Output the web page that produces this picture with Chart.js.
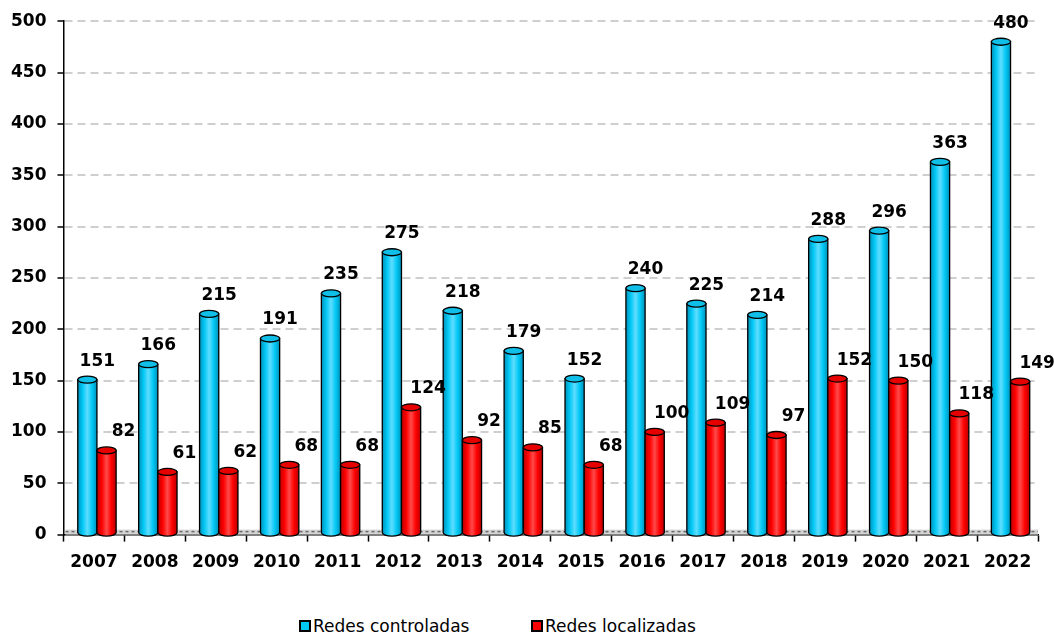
<!DOCTYPE html>
<html>
<head>
<meta charset="utf-8">
<script src="https://cdn.jsdelivr.net/npm/chart.js@4.4.1/dist/chart.umd.min.js"></script>
<style>
  html, body { margin: 0; padding: 0; background: #fff; }
  #wrap { position: relative; width: 1054px; height: 639px; }
  #box { position: absolute; left: 0; top: 0; width: 1054px; height: 600px; }
  .leg { position: absolute; top: 616px; font: 17px "DejaVu Sans", Arial, sans-serif; color: #000; white-space: nowrap; }
  .leg i { display: inline-block; width: 8px; height: 8px; border: 2px solid #000; margin-right: 2px; vertical-align: 0px; }
</style>
</head>
<body>
<div id="wrap">
  <div id="box"><canvas id="chart_redes"></canvas></div>
  <div class="leg" style="left:299px"><i style="background:#00C8F5"></i>Redes controladas</div>
  <div class="leg" style="left:531px"><i style="background:#FF0000"></i>Redes localizadas</div>
</div>
<script>
var years = ['2007', '2008', '2009', '2010', '2011', '2012', '2013', '2014', '2015', '2016', '2017', '2018', '2019', '2020', '2021', '2022'];
var controladas = [151, 166, 215, 191, 235, 275, 218, 179, 152, 240, 225, 214, 288, 296, 363, 480];
var localizadas = [82, 61, 62, 68, 68, 124, 92, 85, 68, 100, 109, 97, 152, 150, 118, 149];
var seriesNames = ['Redes controladas', 'Redes localizadas'];

var colors = [
  { base: '#00C8F5', dark: '#0090B8', light: '#5EDDFF', top: '#10BFE8' },
  { base: '#FF0000', dark: '#B80000', light: '#FF4A4A', top: '#E60000' }
];
var labelShift = [10, 17];
var depth = 3; // small 3d offset of the bars, like the original
var fontFamily = '"DejaVu Sans", Arial, sans-serif';
var boldFont = 'bold 17px ' + fontFamily;

// flat bars are invisible, this draws them as cylinders
var cylinders = {
  id: 'cylinders',
  beforeDatasetsDraw: function(chart) {
    var ctx = chart.ctx, a = chart.chartArea;
    var y0 = chart.scales.y.getPixelForValue(0);
    ctx.save();
    ctx.fillStyle = '#d4d4d4';
    ctx.fillRect(a.left + 2, y0 - 5, a.right - a.left - 2, 5);
    ctx.strokeStyle = '#6a6a6a';
    ctx.lineWidth = 1.5;
    ctx.setLineDash([3, 3]);
    ctx.beginPath();
    ctx.moveTo(a.left + 2, y0 - 3);
    ctx.lineTo(a.right, y0 - 3);
    ctx.stroke();
    ctx.restore();
  },
  afterDatasetsDraw: function(chart) {
    var ctx = chart.ctx;
    chart.data.datasets.forEach(function(ds, di) {
      var c = colors[di];
      chart.getDatasetMeta(di).data.forEach(function(bar) {
        var cx = bar.x + depth;
        var w = bar.width, x0 = cx - w / 2, x1 = cx + w / 2;
        var top = bar.y, base = bar.base - 1, ry = 3.5;
        ctx.save();
        var g = ctx.createLinearGradient(x0, 0, x1, 0);
        g.addColorStop(0, c.dark);
        g.addColorStop(0.25, c.base);
        g.addColorStop(0.5, c.light);
        g.addColorStop(0.75, c.base);
        g.addColorStop(1, c.dark);
        ctx.fillStyle = g;
        ctx.beginPath();
        ctx.moveTo(x0, top);
        ctx.lineTo(x0, base);
        ctx.ellipse(cx, base, w / 2, ry, 0, Math.PI, 0, true);
        ctx.lineTo(x1, top);
        ctx.closePath();
        ctx.fill();
        ctx.strokeStyle = '#000';
        ctx.lineWidth = 1.3;
        ctx.stroke();
        ctx.beginPath();
        ctx.ellipse(cx, top, w / 2, ry, 0, 0, Math.PI * 2);
        ctx.fillStyle = c.top;
        ctx.fill();
        ctx.stroke();
        ctx.restore();
      });
    });
  },
  afterDraw: function(chart) {
    var ctx = chart.ctx;
    ctx.save();
    ctx.font = boldFont;
    ctx.fillStyle = '#000';
    ctx.textAlign = 'center';
    ctx.textBaseline = 'alphabetic';
    chart.data.datasets.forEach(function(ds, di) {
      chart.getDatasetMeta(di).data.forEach(function(bar, i) {
        ctx.fillText(String(ds.data[i]), bar.x + depth + labelShift[di], bar.y - 14);
      });
    });
    ctx.restore();
  }
};

var chart_redes = new Chart(document.getElementById('chart_redes'), {
  type: 'bar',
  data: {
    labels: years,
    datasets: [
      {
        label: seriesNames[0],
        data: controladas,
        backgroundColor: 'rgba(0,0,0,0)',
        categoryPercentage: 0.63,
        barPercentage: 1.0
      },
      {
        label: seriesNames[1],
        data: localizadas,
        backgroundColor: 'rgba(0,0,0,0)',
        categoryPercentage: 0.63,
        barPercentage: 1.0
      }
    ]
  },
  options: {
    animation: false,
    responsive: true,
    maintainAspectRatio: false,
    layout: { padding: { left: 0, right: 16, top: 17, bottom: 16 } },
    plugins: {
      legend: { display: false },
      tooltip: { enabled: false }
    },
    scales: {
      x: {
        grid: { display: true, drawOnChartArea: false, drawTicks: true, tickLength: 7, tickColor: '#000', tickWidth: 1.5, offset: true },
        border: { color: '#000', width: 1.5 },
        ticks: { color: '#000', font: { family: fontFamily, size: 17, weight: 'bold' }, padding: 11 }
      },
      y: {
        min: 0,
        max: 500,
        ticks: { stepSize: 50, color: '#000', font: { family: fontFamily, size: 17, weight: 'bold' }, padding: 11 },
        grid: {
          color: function(ctx) { return ctx.tick && ctx.tick.value === 0 ? 'rgba(0,0,0,0)' : '#cfcfcf'; },
          lineWidth: 2,
          tickLength: 6,
          tickColor: '#000',
          tickWidth: 1.5
        },
        border: { color: '#000', width: 1.5, dash: [8, 5] }
      }
    }
  },
  plugins: [cylinders]
});
</script>
</body>
</html>
